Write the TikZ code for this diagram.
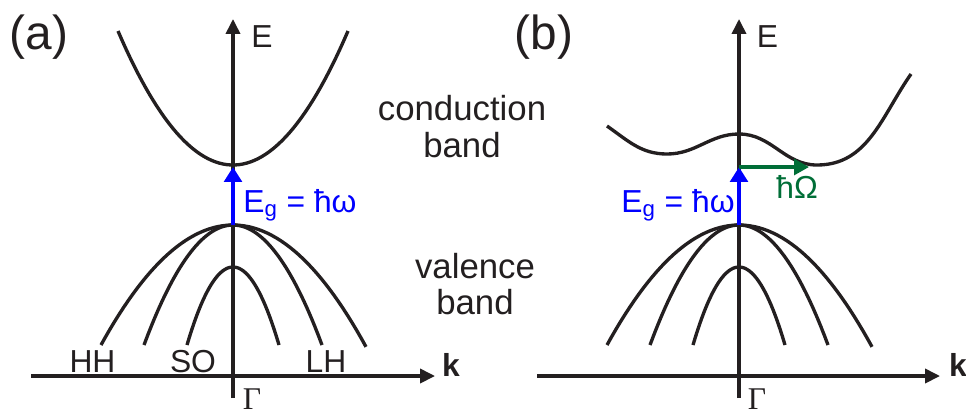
\documentclass[tikz,border=0pt]{standalone}
\usepackage{fontspec}
\setmainfont{Liberation Sans}
\newfontfamily\gammafont{Liberation Serif}
\usetikzlibrary{arrows.meta}
\definecolor{axisgray}{RGB}{35,31,32}
\definecolor{phonongreen}{RGB}{0,110,55}

\begin{document}
\begin{tikzpicture}[
  x=0.02cm, y=0.02cm,
  axis/.style={line width=1.9pt, draw=axisgray, -{Triangle[length=8.5pt, width=8pt]}},
  band/.style={line width=1.9pt, draw=axisgray},
  gap/.style={line width=2.4pt, draw=blue, -{Triangle[length=8.5pt, width=10pt]}},
  phonon/.style={line width=1.9pt, draw=phonongreen, -{Triangle[length=8.5pt, width=9pt]}},
  panel/.style={inner sep=0pt, text=axisgray, font=\fontsize{27.2}{32}\selectfont},
  axlabel/.style={inner sep=0pt, text=axisgray, font=\fontsize{18.1}{21}\selectfont},
  bandname/.style={inner sep=0pt, text=axisgray, align=center, font=\fontsize{19.8}{20.6}\selectfont},
  gamma/.style={inner sep=0pt, text=axisgray, font=\fontsize{18}{20}\selectfont\gammafont}
]
  \useasboundingbox (0,0) rectangle (966,-417);

  % axes, panel (a)
  \coordinate (a-kl) at (31,-376);  \coordinate (a-kr) at (435,-376);
  \coordinate (a-eb) at (233,-398); \coordinate (a-et) at (233,-19);
  \draw[axis] (a-kl) -- (a-kr);
  \draw[axis] (a-eb) -- (a-et);
  % axes, panel (b)
  \coordinate (b-kl) at (537,-376); \coordinate (b-kr) at (940,-376);
  \coordinate (b-eb) at (739,-398); \coordinate (b-et) at (739,-19);
  \draw[axis] (b-kl) -- (b-kr);
  \draw[axis] (b-eb) -- (b-et);

  % valence bands (HH, LH, SO) in both panels
  \foreach \cx in {233,739}{
    \draw[band] plot[domain=-132:133, samples=60] ({\cx+\x},{-225-120*(\x/132)^2});
    \draw[band] plot[domain=-89:89, samples=50] ({\cx+\x},{-225-120*(\x/89)^2});
    \draw[band] plot[domain=-46:46, samples=40] ({\cx+\x},{-267-78*(\x/46)^2});
  }

  % conduction bands
  \draw[band] plot[domain=-115:115, samples=60] ({233+\x},{-165+134*(\x/115)^2});
  \draw[band] (607,-126) to[out=-35,in=180] (667,-154) to[out=0,in=180] (739,-134)
    to[out=0,in=180] (817,-165) to[out=0,in=-125] (911,-74);

  % transitions
  \coordinate (a-vbm) at (233,-225); \coordinate (a-cbm) at (233,-167);
  \coordinate (b-vbm) at (739,-225); \coordinate (b-cbm) at (739,-167);
  \coordinate (b-xmin) at (809,-167);
  \draw[gap] (a-vbm) -- (a-cbm);
  \draw[gap] (b-vbm) -- (b-cbm);
  \draw[phonon] (b-cbm) -- (b-xmin);

  % labels
  \node[panel] (pa) at (39,-37) {(a)};
  \node[panel] (pb) at (544,-37) {(b)};
  \node[axlabel] (ea) at (262,-36.5) {E};
  \node[axlabel] (eb) at (767.5,-36.5) {E};
  \node[axlabel, font=\fontsize{18.1}{21}\selectfont\bfseries] (ka) at (451,-365) {k};
  \node[axlabel, font=\fontsize{18.1}{21}\selectfont\bfseries] (kb) at (958,-365) {k};
  \node[gamma] (ga) at (252,-399.5) {Γ};
  \node[gamma] (gb) at (757,-399.5) {Γ};
  \node[axlabel] (hh) at (92.5,-361.5) {HH};
  \node[axlabel] (so) at (193,-361.5) {SO};
  \node[axlabel] (lh) at (326,-361.5) {LH};
  \node[axlabel, text=blue, anchor=base west] (ega) at (243,-212) {E\textsubscript{g} = ħω};
  \node[axlabel, text=blue, anchor=base east] (egb) at (735,-212) {E\textsubscript{g} = ħω};
  \node[axlabel, text=phonongreen, anchor=base west] (om) at (776,-198) {ħΩ};
  \node[bandname] (cb) at (462,-126.5) {conduction\\band};
  \node[bandname] (vb) at (475,-284) {valence\\band};
\end{tikzpicture}
\end{document}
